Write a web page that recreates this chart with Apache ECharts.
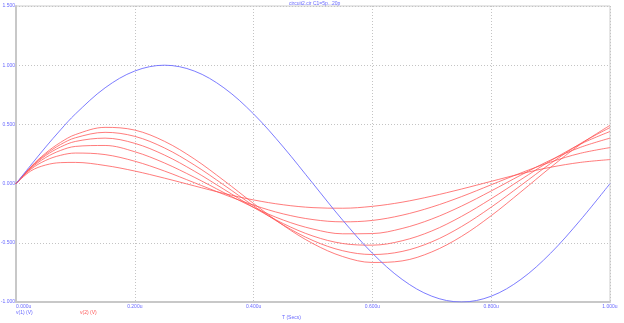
<!DOCTYPE html>
<html>
<head>
<meta charset="utf-8">
<script src="https://cdn.jsdelivr.net/npm/echarts@6/dist/echarts.min.js"></script>
<style>
html,body{margin:0;padding:0;background:#fff;}
#chart{width:624px;height:323px;}
</style>
</head>
<body>
<div id="chart"></div>
<script>
// time in microseconds
const timeUs = [0, 0.025, 0.05, 0.075, 0.1, 0.15, 0.2, 0.25, 0.3, 0.35, 0.4, 0.45, 0.5, 0.55, 0.6, 0.65, 0.7, 0.75, 0.8, 0.85, 0.9, 0.95, 1.0];
// v(1) input
const v1 = [0, 0.156, 0.309, 0.454, 0.588, 0.809, 0.951, 1.0, 0.951, 0.809, 0.588, 0.309, 0, -0.309, -0.588, -0.809, -0.951, -1.0, -0.951, -0.809, -0.588, -0.309, 0];
// v(2) for the C1 sweep (smallest to largest response)
const v2_a = [0, 0.107, 0.157, 0.177, 0.179, 0.153, 0.106, 0.046, -0.019, -0.083, -0.138, -0.179, -0.203, -0.208, -0.192, -0.157, -0.106, -0.046, 0.019, 0.083, 0.138, 0.179, 0.203];
const v2_b = [0, 0.121, 0.196, 0.239, 0.258, 0.245, 0.189, 0.106, 0.008, -0.091, -0.182, -0.256, -0.304, -0.323, -0.311, -0.267, -0.198, -0.110, -0.010, 0.090, 0.182, 0.256, 0.304];
const v2_c = [0, 0.129, 0.220, 0.280, 0.314, 0.322, 0.269, 0.174, 0.054, -0.076, -0.201, -0.308, -0.384, -0.424, -0.422, -0.379, -0.299, -0.190, -0.062, 0.072, 0.199, 0.306, 0.384];
const v2_d = [0, 0.135, 0.237, 0.309, 0.356, 0.384, 0.340, 0.241, 0.106, -0.048, -0.201, -0.338, -0.443, -0.506, -0.520, -0.483, -0.400, -0.277, -0.128, 0.034, 0.193, 0.333, 0.440];
const v2_e = [0, 0.139, 0.248, 0.330, 0.387, 0.433, 0.399, 0.301, 0.158, -0.012, -0.188, -0.350, -0.481, -0.567, -0.599, -0.573, -0.492, -0.363, -0.199, -0.015, 0.170, 0.338, 0.473];
const v2_f = [0, 0.142, 0.258, 0.348, 0.414, 0.475, 0.452, 0.357, 0.209, 0.026, -0.168, -0.353, -0.507, -0.616, -0.666, -0.653, -0.577, -0.446, -0.271, -0.070, 0.137, 0.331, 0.492];
const redSeries = [v2_a, v2_b, v2_c, v2_d, v2_e, v2_f];

const titleText = 'circuit2.cir C1=5p...20p';
const xName = 'T (Secs)';
const legend1 = 'v(1) (V)';
const legend2 = 'v(2) (V)';

const pairs = arr => timeUs.map((t, i) => [t, arr[i]]);
const FONT = 'Liberation Sans';
const BLUE_TXT = '#6a6aff';
const TXT_FONT = '5px "Liberation Sans"';

const series = [];
redSeries.forEach((arr, k) => {
  series.push({
    type: 'line', name: 'v2_' + k, data: pairs(arr), smooth: 0.35, symbol: 'none',
    lineStyle: {color: 'rgba(255,80,80,0.75)', width: 1}, z: 3
  });
});
series.push({
  type: 'line', name: 'v1', data: pairs(v1), smooth: 0.35, symbol: 'none',
  lineStyle: {color: 'rgba(110,110,255,0.9)', width: 1}, z: 4
});

const chart = echarts.init(document.getElementById('chart'), null, {renderer: 'canvas'});
chart.setOption({
  animation: false,
  backgroundColor: '#fff',
  grid: {left: 16, right: 14, top: 6, bottom: 21, containLabel: false, outerBoundsMode: 'none',
         show: true, borderColor: '#cccccc', borderWidth: 1},
  xAxis: {
    type: 'value', min: 0, max: 1, interval: 0.2,
    axisLine: {show: true, onZero: false, lineStyle: {color: '#c8c8c8', width: 2}},
    axisTick: {show: false},
    splitLine: {show: true, lineStyle: {color: '#c4c4c4', type: [1, 2], width: 1}},
    axisLabel: {
      fontFamily: FONT, fontSize: 5, color: BLUE_TXT, margin: 2, alignMinLabel: 'left',
      formatter: v => v.toFixed(3) + 'u'
    }
  },
  yAxis: {
    type: 'value', min: -1, max: 1.5, interval: 0.5,
    axisLine: {show: true, onZero: false, lineStyle: {color: '#c8c8c8', width: 2}},
    axisTick: {show: false},
    splitLine: {show: true, lineStyle: {color: '#c4c4c4', type: [1, 2], width: 1}},
    axisLabel: {
      fontFamily: FONT, fontSize: 5, color: BLUE_TXT, margin: 1,
      formatter: v => v.toFixed(3)
    }
  },
  graphic: [
    {type: 'text', left: 289, top: 1, style: {text: titleText, font: TXT_FONT, fill: BLUE_TXT}},
    {type: 'text', left: 16, top: 310, style: {text: legend1, font: TXT_FONT, fill: BLUE_TXT}},
    {type: 'text', left: 80, top: 310, style: {text: legend2, font: TXT_FONT, fill: '#ff5a5a'}},
    {type: 'text', left: 282, top: 315, style: {text: xName, font: TXT_FONT, fill: BLUE_TXT}}
  ],
  series: series
});
</script>
</body>
</html>
